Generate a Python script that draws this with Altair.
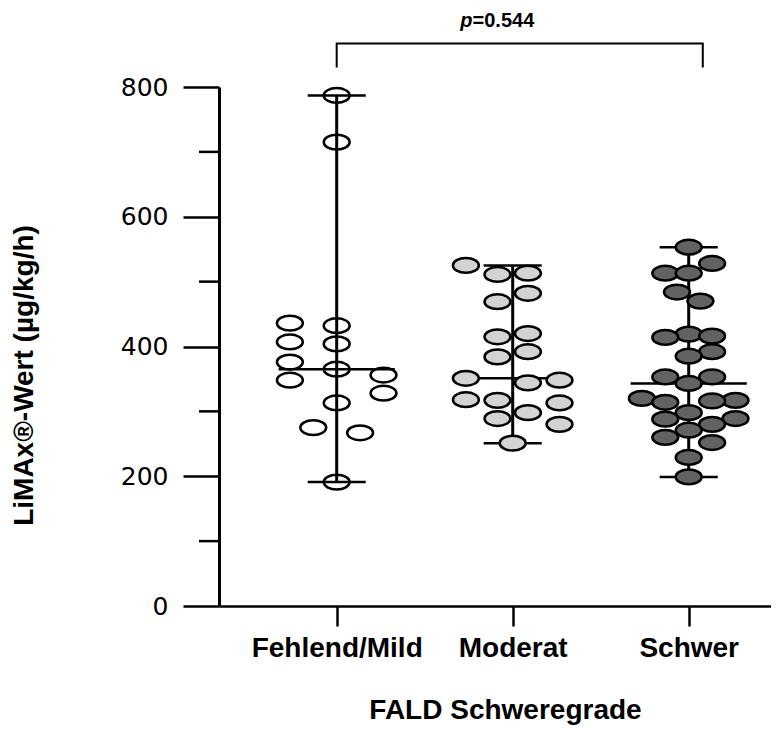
import json
import altair as alt
import pandas as pd

# ---------------- data ----------------
groups = ["Fehlend/Mild", "Moderat", "Schwer"]

fehlend_values = [787, 715, 436, 432, 407, 404, 376, 365, 356, 348, 328, 313, 275, 267, 191]
fehlend_slots = [0, 0, -4, 0, -4, 0, -4, 0, 4, -4, 4, 0, -2, 2, 0]

moderat_values = [525, 511, 513, 482, 469, 420, 415, 392, 384, 351, 348, 344, 318, 317, 313, 298, 289, 280, 251]
moderat_slots = [-4, -1.3, 1.3, 1.3, -1.3, 1.3, -1.3, 1.3, -1.3, -4, 4, 1.3, -4, -1.3, 4, 1.3, -1.3, 4, 0]

schwer_values = [553, 528, 513, 513, 484, 470, 419, 416, 414, 392, 385, 353, 353, 343, 320, 317, 316, 314,
                 298, 289, 288, 280, 271, 260, 252, 229, 199]
schwer_slots = [0, 2, -2, 0, -1, 1, 0, 2, -2, 2, 0, -2, 2, 0, -4, 4, 2, -2, 0, 4, -2, 2, 0, -2, 2, 0, 0]

y_ticks = [0, 200, 400, 600, 800]
y_minor_ticks = [100, 300, 500, 700]

p_symbol = "p"
p_value_text = "=0.544"

# ---------------- styling / layout constants ----------------
W, H = 552, 519
XDOM = [0.3313, 3.4676]
YDOM = [0, 800]
SLOT = 0.0665          # swarm column width in x units
CAP = 0.165            # half width of whisker caps
MED = 0.33             # half width of median line
BRACKET_X = [1, 3.08]
BRACKET_Y = [830, 867]
P_POS = (1.772, 893)
fill_colors = ["rgba(255,255,255,0)", "#d3d3d3", "#626262"]
ELLIPSE = "M-1,0A1,0.57 0 1,0 1,0A1,0.57 0 1,0 -1,0Z"

rows = []
for i, (g, vals, slots) in enumerate(zip(groups,
                                         [fehlend_values, moderat_values, schwer_values],
                                         [fehlend_slots, moderat_slots, schwer_slots])):
    for v, s in zip(vals, slots):
        rows.append({"group": g, "gidx": i + 1, "value": v, "slot": s})
df = pd.DataFrame(rows)

bracket_df = pd.DataFrame({
    "bx": [BRACKET_X[0], BRACKET_X[0], BRACKET_X[1], BRACKET_X[1]],
    "by": [BRACKET_Y[0], BRACKET_Y[1], BRACKET_Y[1], BRACKET_Y[0]],
    "o": [0, 1, 2, 3],
})
minor_df = pd.DataFrame({"t": y_minor_ticks})

xs = alt.Scale(domain=XDOM, nice=False, zero=False)
ys = alt.Scale(domain=YDOM, nice=False)

x_axis = alt.Axis(
    values=[1, 2, 3],
    labelExpr=f"{json.dumps(groups)}[datum.value - 1]",
    title="FALD Schweregrade",
    grid=False, tickSize=20, tickWidth=2.5, domainWidth=2.5,
    domainColor="black", tickColor="black",
    labelFont="Liberation Sans", labelFontWeight="bold", labelFontSize=28,
    labelColor="black", labelPadding=8, labelFlush=False, labelOverlap=False,
    titleFont="Liberation Sans", titleFontWeight="bold", titleFontSize=28,
    titleColor="black", titleX=286, titleY=112, titleBaseline="alphabetic",
    titleAlign="center",
)
y_axis = alt.Axis(
    values=y_ticks,
    title="LiMAx®-Wert (µg/kg/h)",
    grid=False, tickSize=36, tickWidth=2.5, domainWidth=3,
    domainColor="black", tickColor="black",
    labelFont="DejaVu Sans", labelFontSize=25, labelColor="black", labelPadding=15,
    labelFlush=False,
    titleFont="Liberation Sans", titleFontWeight="bold", titleFontSize=28,
    titleColor="black", titleAngle=270, titleX=-187, titleY=288,
    titleBaseline="alphabetic", titleAlign="center",
)

base = alt.Chart(df)

stats = base.transform_aggregate(
    vmin="min(value)", vmax="max(value)", vmed="median(value)", groupby=["gidx"]
).transform_calculate(
    capL=f"datum.gidx - {CAP}", capR=f"datum.gidx + {CAP}",
    medL=f"datum.gidx - {MED}", medR=f"datum.gidx + {MED}",
)

vline = stats.mark_rule(color="black", strokeWidth=3).encode(
    x=alt.X("gidx:Q", scale=xs, axis=x_axis),
    y=alt.Y("vmin:Q", scale=ys, axis=y_axis),
    y2="vmax:Q",
)
cap_max = stats.mark_rule(color="black", strokeWidth=2.5).encode(
    x=alt.X("capL:Q", scale=xs, axis=x_axis), x2="capR:Q",
    y=alt.Y("vmax:Q", scale=ys, axis=y_axis),
)
cap_min = stats.mark_rule(color="black", strokeWidth=2.5).encode(
    x=alt.X("capL:Q", scale=xs, axis=x_axis), x2="capR:Q",
    y=alt.Y("vmin:Q", scale=ys, axis=y_axis),
)
median = stats.mark_rule(color="black", strokeWidth=2.5).encode(
    x=alt.X("medL:Q", scale=xs, axis=x_axis), x2="medR:Q",
    y=alt.Y("vmed:Q", scale=ys, axis=y_axis),
)

points = base.transform_calculate(
    xpos=f"datum.gidx + datum.slot * {SLOT}"
).mark_point(
    shape=ELLIPSE, size=670, filled=True, stroke="black", strokeWidth=2.5, opacity=1
).encode(
    x=alt.X("xpos:Q", scale=xs, axis=x_axis),
    y=alt.Y("value:Q", scale=ys, axis=y_axis),
    fill=alt.Fill("group:N", scale=alt.Scale(domain=groups, range=fill_colors), legend=None),
)

minor = alt.Chart(minor_df).mark_rule(color="black", strokeWidth=2.5).encode(
    y=alt.Y("t:Q", scale=ys, axis=y_axis),
    x=alt.value(-20), x2=alt.value(0),
)

bracket = alt.Chart(bracket_df).mark_line(color="black", strokeWidth=2).encode(
    x=alt.X("bx:Q", scale=xs, axis=x_axis),
    y=alt.Y("by:Q", scale=ys, axis=y_axis),
    order="o:Q",
)

p_italic = alt.Chart(bracket_df).mark_text(
    text=p_symbol, font="Liberation Sans", fontStyle="italic", fontWeight="bold",
    fontSize=20, align="right", baseline="alphabetic", color="black",
).encode(x=alt.datum(P_POS[0]), y=alt.datum(P_POS[1])).transform_filter("datum.o == 0")

p_rest = alt.Chart(bracket_df).mark_text(
    text=p_value_text, font="Liberation Sans", fontWeight="bold",
    fontSize=20, align="left", baseline="alphabetic", color="black",
).encode(x=alt.datum(P_POS[0]), y=alt.datum(P_POS[1])).transform_filter("datum.o == 0")

chart = alt.layer(
    vline, cap_max, cap_min, median, minor, bracket, points, p_italic, p_rest
).properties(
    width=W, height=H,
    autosize=alt.AutoSizeParams(type="none"),
    padding={"left": 211, "top": 79, "right": 0, "bottom": 119},
).configure(background="white").configure_view(stroke=None)

chart.save("out.html", embed_options={"renderer": "svg", "actions": False})
